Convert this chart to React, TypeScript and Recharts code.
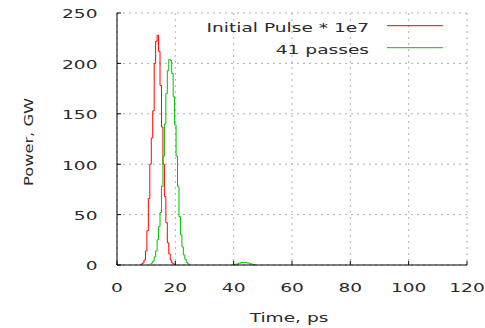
import React from "react";
import { LineChart, Line, XAxis, YAxis, CartesianGrid, Label } from "recharts";

// Time axis (ps) and power axis (GW)
const timeTicks = [0, 20, 40, 60, 80, 100, 120];
const powerTicks = [0, 50, 100, 150, 200, 250];

// Initial pulse, scaled by 1e7
const initialTimes = [8, 8.5, 9, 9.5, 10, 10.5, 11, 11.5, 12, 12.5, 13, 13.5, 14, 14.5, 15, 15.5, 16, 16.5, 17, 17.5, 18, 18.5, 19, 19.5, 20];
const initialPower = [0.5, 1, 2, 5, 14, 34, 66, 100, 126, 153, 200, 222, 228, 212, 178, 137, 100, 68, 42, 22, 11, 5, 2, 1, 0.3];

// Pulse after 41 passes (main peak, then a small satellite)
const passTimes = [11.5, 12, 12.5, 13, 13.5, 14, 14.5, 15, 15.5, 16, 16.5, 17, 17.5, 18, 18.5, 19, 19.5, 20, 20.5, 21, 21.5, 22, 22.5, 23, 23.5, 24, 24.5, 25, 32, 40, 41, 42, 43, 44, 45, 46, 47, 47.5];
const passPower: (number | null)[] = [1, 2, 4, 8, 14, 25, 38, 52, 78, 108, 140, 170, 193, 204, 203, 190, 167, 139, 108, 78, 48, 30, 18, 10, 5.5, 2.5, 1, 0.3, null, 0.2, 0.8, 1.8, 2.5, 2.6, 2, 1.1, 0.4, 0.1];

const seriesNames = ["Initial Pulse * 1e7", "41 passes"];
const seriesColors = ["#ff0000", "#00c000"];

const initialData = initialTimes.map((t, i) => ({ t, p: initialPower[i] }));
const passData = passTimes.map((t, i) => ({ t, p: passPower[i] }));

const FONT = "DejaVu Sans";
const SX = 1.43;
const TEXT = "#2a2a2a";

const XTick = (props: any) => {
  const { x, y, payload } = props;
  return (
    <text transform={`translate(${x},${y}) scale(${SX},1)`} textAnchor="middle" dominantBaseline="central" fontFamily={FONT} fontSize={13} fill={TEXT}>
      {payload.value}
    </text>
  );
};

const YTick = (props: any) => {
  const { x, y, payload } = props;
  return (
    <text transform={`translate(${x},${y + 1}) scale(${SX},1)`} textAnchor="end" dominantBaseline="central" fontFamily={FONT} fontSize={13} fill={TEXT}>
      {payload.value}
    </text>
  );
};

const XTitle = (props: any) => {
  const vb = props.viewBox;
  return (
    <text transform={`translate(${vb.x + vb.width / 2 - 3},322) scale(${SX},1)`} textAnchor="middle" fontFamily={FONT} fontSize={13} fill={TEXT}>
      Time, ps
    </text>
  );
};

const YTitle = (props: any) => {
  const vb = props.viewBox;
  return (
    <text transform={`translate(32.5,${vb.y + vb.height / 2 + 3}) rotate(-90) scale(1.25,1)`} textAnchor="middle" fontFamily={FONT} fontSize={13} fill={TEXT}>
      Power, GW
    </text>
  );
};

export default function App() {
  return (
    <div style={{ position: "absolute", left: 0, top: 0, width: 485, height: 328, background: "#fff" }}>
      <LineChart width={485} height={328} margin={{ top: 13, right: 18, left: 0, bottom: 0 }}>
        <CartesianGrid stroke="#b0b0b0" strokeDasharray="2 4" />
        <XAxis
          dataKey="t"
          type="number"
          domain={[0, 120]}
          ticks={timeTicks}
          height={63}
          stroke="#000"
          tickSize={-4}
          tickMargin={27}
          tick={<XTick />}
          allowDataOverflow
        >
          <Label content={<XTitle />} />
        </XAxis>
        <XAxis
          xAxisId="top"
          orientation="top"
          dataKey="t"
          type="number"
          domain={[0, 120]}
          ticks={timeTicks}
          height={0}
          stroke="#000"
          tickSize={-4}
          tick={false}
        />
        <YAxis
          type="number"
          domain={[0, 250]}
          ticks={powerTicks}
          width={117}
          stroke="#000"
          tickSize={-4}
          tickMargin={23.5}
          tick={<YTick />}
        >
          <Label content={<YTitle />} />
        </YAxis>
        <YAxis
          yAxisId="right"
          orientation="right"
          type="number"
          domain={[0, 250]}
          ticks={powerTicks}
          width={0}
          stroke="#000"
          tickSize={-4}
          tick={false}
        />
        <Line data={initialData} dataKey="p" name={seriesNames[0]} type="step" stroke={seriesColors[0]} strokeWidth={1} dot={false} isAnimationActive={false} />
        <Line data={passData} dataKey="p" name={seriesNames[1]} type="step" stroke={seriesColors[1]} strokeWidth={1} dot={false} isAnimationActive={false} connectNulls={false} />
      </LineChart>
      <svg width={485} height={60} style={{ position: "absolute", left: 0, top: 0, pointerEvents: "none" }}>
        {seriesNames.map((name, i) => (
          <g key={name}>
            <text transform={`translate(369,${31.5 + i * 22}) scale(${SX},1)`} textAnchor="end" fontFamily={FONT} fontSize={13} fill={TEXT}>
              {name}
            </text>
            <line x1={387} x2={443} y1={25.7 + i * 22} y2={25.7 + i * 22} stroke={seriesColors[i]} strokeWidth={1} />
          </g>
        ))}
      </svg>
    </div>
  );
}
